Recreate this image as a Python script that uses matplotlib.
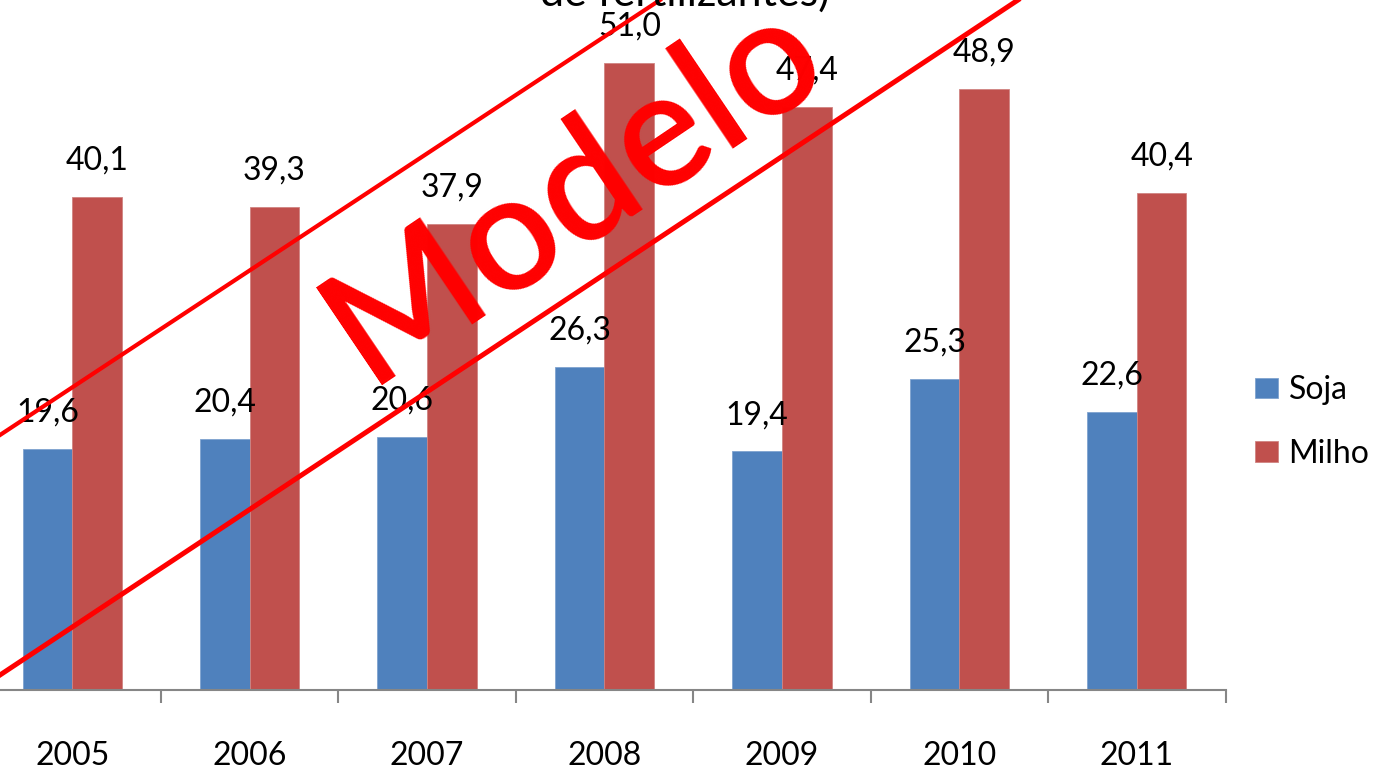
import matplotlib.pyplot as plt
from matplotlib.lines import Line2D

plt.rcParams['font.family'] = ['Lato', 'DejaVu Sans']

anos = ['2005', '2006', '2007', '2008', '2009', '2010', '2011']
soja = [19.6, 20.4, 20.6, 26.3, 19.4, 25.3, 22.6]
milho = [40.1, 39.3, 37.9, 51.0, 47.4, 48.9, 40.4]
titulo = 'de fertilizantes)'

AZUL = '#4F81BD'
VERMELHO = '#C0504D'
W, H = 1380, 769

fig = plt.figure(figsize=(W / 100, H / 100), dpi=100)
# axes placed in pixels: x from -16.5 to 1225.5, y from 0 (top) to 690
ax = fig.add_axes([-16.5 / W, (H - 690) / H, 1242 / W, 690 / H])

x = list(range(len(anos)))
largura = 0.28
b1 = ax.bar([i - largura / 2 for i in x], soja, largura, color=AZUL,
            edgecolor='#7FA3CF', linewidth=0.6, label='Soja')
b2 = ax.bar([i + largura / 2 for i in x], milho, largura, color=VERMELHO,
            edgecolor='#D08482', linewidth=0.6, label='Milho')

def fmt(v):
    return f'{v:.1f}'.replace('.', ',')

for barras, valores in ((b1, soja), (b2, milho)):
    for b, v in zip(barras, valores):
        ax.annotate(fmt(v), (b.get_x() + b.get_width() / 2, v),
                    xytext=(0, 19.5), textcoords='offset points',
                    ha='center', va='baseline', fontsize=23)

for i, a in enumerate(anos):
    ax.annotate(a, (i, 0), xycoords=('data', 'axes fraction'),
                xytext=(0, -54), textcoords='offset points',
                ha='center', va='baseline', fontsize=23)

ax.set_xlim(-0.5, len(anos) - 0.5)
ax.set_ylim(0, 690 / 12.3)
ax.set_xticks([i - 0.5 for i in range(len(anos) + 1)])
ax.set_xticklabels([])
ax.tick_params(axis='x', length=9, width=1.5, color='#868686', direction='out')
ax.set_yticks([])
for s in ('top', 'right', 'left'):
    ax.spines[s].set_visible(False)
ax.spines['bottom'].set_color('#868686')
ax.spines['bottom'].set_linewidth(1.5)
ax.patch.set_alpha(0)

fig.legend(handles=[b1, b2], loc='center left',
           bbox_to_anchor=(1255 / W, 1 - 422 / H), frameon=False,
           fontsize=23, handlelength=0.72, handleheight=0.63,
           handletextpad=0.33, labelspacing=1.05, borderpad=0, borderaxespad=0)

# title, only its last line shows at the top edge
fig.text(830 / W, 1 - 6 / H, titulo, ha='right', va='baseline', fontsize=31)

# watermark
fig.add_artist(Line2D([0, 660 / W], [1 - 435 / H, 1], transform=fig.transFigure,
                      color='#FF0000', linewidth=3.0))
fig.add_artist(Line2D([0, 1018 / W], [1 - 675 / H, 1], transform=fig.transFigure,
                      color='#FF0000', linewidth=3.6))
fig.text(600 / W, 1 - 229 / H, 'Modelo', color='#FF0000', fontsize=118,
         fontweight='semibold', rotation=34, rotation_mode='anchor',
         ha='center', va='baseline')

fig.savefig('out.png', dpi=100)
